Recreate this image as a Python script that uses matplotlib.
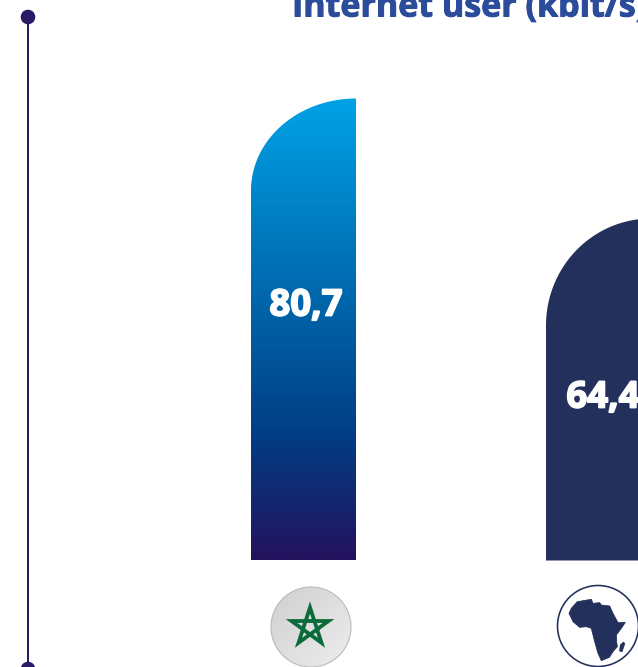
import matplotlib
matplotlib.use("Agg")
import matplotlib.pyplot as plt
import matplotlib.patheffects as pe
import numpy as np
from matplotlib.colors import LinearSegmentedColormap
from matplotlib.patches import Circle, PathPatch, Polygon
from matplotlib.path import Path

# valeurs
labels = ["80,7", "64,4"]
bar_heights = [462, 342]  # hauteurs dessinees, pas proportionnelles aux labels
title = "Internet user (kbit/s)"

W, H = 638, 667
base_y = 560.5
bar_left = [251, 546]
bar_w = 105
ry = [92, 107]
label_x = [306, 603]
label_y = [302, 394]
navy = "#22305B"
line_col = "#2A1A66"

plt.rcParams['font.family'] = ['Open Sans', 'DejaVu Sans']

fig = plt.figure(figsize=(W/100, H/100), dpi=100)
ax = fig.add_axes([0, 0, 1, 1])
ax.set_xlim(0, W)
ax.set_ylim(H, 0)
ax.axis('off')


def px(n):
	return n*72/100


def bar_path(x0, h, r):
	# coin arrondi seulement en haut a gauche
	top = base_y - h
	t = np.linspace(np.pi, 1.5*np.pi, 60)
	xs = x0 + bar_w + bar_w*np.cos(t)
	ys = top + r + r*np.sin(t)
	pts = [(x0, base_y)] + list(zip(xs, ys)) + [(x0+bar_w, top), (x0+bar_w, base_y), (x0, base_y)]
	return Path(pts)


# Ligne verticale
ax.plot([28, 28], [17, H], color=line_col, lw=px(2), solid_capstyle='butt', zorder=2)
ax.add_patch(Circle((28, 17), 7.3, color=line_col, lw=0, zorder=3))
ax.add_patch(Circle((28, 669), 7.3, color=line_col, lw=0, zorder=3))

# Titre
tt = ax.text(292, 16.5, title, fontsize=px(34), fontweight='bold', color="#2B4C9B", ha='left', va='baseline')
tt.set_path_effects([pe.withStroke(linewidth=px(1), foreground="#2B4C9B")])

# Barre degradee
cmap = LinearSegmentedColormap.from_list("barre", [(0, "#00A2E6"), (0.72, "#003F85"), (1, "#25125E")])
grad = np.linspace(0, 1, 256).reshape(-1, 1)
p1 = PathPatch(bar_path(bar_left[0], bar_heights[0], ry[0]), fc='none', ec='none')
ax.add_patch(p1)
im = ax.imshow(grad, cmap=cmap, aspect='auto', zorder=1,
	extent=[bar_left[0], bar_left[0]+bar_w, base_y, base_y-bar_heights[0]])
im.set_clip_path(p1)

# Barre unie
ax.add_patch(PathPatch(bar_path(bar_left[1], bar_heights[1], ry[1]), fc=navy, ec='none', zorder=1))
ax.set_xlim(0, W)
ax.set_ylim(H, 0)

for i in range(len(labels)):
	v = ax.text(label_x[i], label_y[i], labels[i], fontsize=px(36.5), fontweight='bold', color='white',
		ha='center', va='center_baseline', zorder=5)
	v.set_path_effects([pe.withStroke(linewidth=px(1.8), foreground='white')])

# Icone Maroc
c1 = Circle((311, 627), 40, fc='none', ec='#BDBDBD', lw=px(1.2), zorder=3)
ax.add_patch(c1)
gris = LinearSegmentedColormap.from_list("gris", ["#CFCFCF", "#EEEEEE"])
g = np.linspace(0, 1, 80)
im2 = ax.imshow(np.add.outer(g, g)/2, cmap=gris, aspect='auto', zorder=2, extent=[271, 351, 667, 587])
im2.set_clip_path(c1)
star = [(310, 607.5), (298.5, 642.8), (328.5, 621), (291.5, 621), (321.5, 642.8)]
ax.add_patch(Polygon(star, closed=True, fc='none', ec='#0B6B3A', lw=px(3.8), joinstyle='miter', zorder=4))
ax.set_xlim(0, W)
ax.set_ylim(H, 0)

# Icone Afrique
ax.add_patch(Circle((598, 626), 40.5, fc='white', ec=navy, lw=px(1.6), zorder=3))
afrique = [(118, 95), (160, 88), (165, 100), (185, 98), (190, 105), (215, 108), (225, 130), (240, 158),
	(262, 157), (250, 175), (235, 195), (236, 215), (238, 230), (225, 245), (214, 262), (190, 272),
	(180, 250), (170, 215), (165, 195), (160, 175), (145, 170), (125, 172), (105, 155), (93, 130), (100, 115)]
madagascar = [(247, 225), (257, 216), (260, 222), (252, 245), (245, 243)]
for forme in (afrique, madagascar):
	ax.add_patch(Polygon([(538+x/3, 570+y/3) for x, y in forme], closed=True, fc=navy, ec=navy, lw=px(0.8), zorder=4))

fig.savefig("out.png", dpi=100)
